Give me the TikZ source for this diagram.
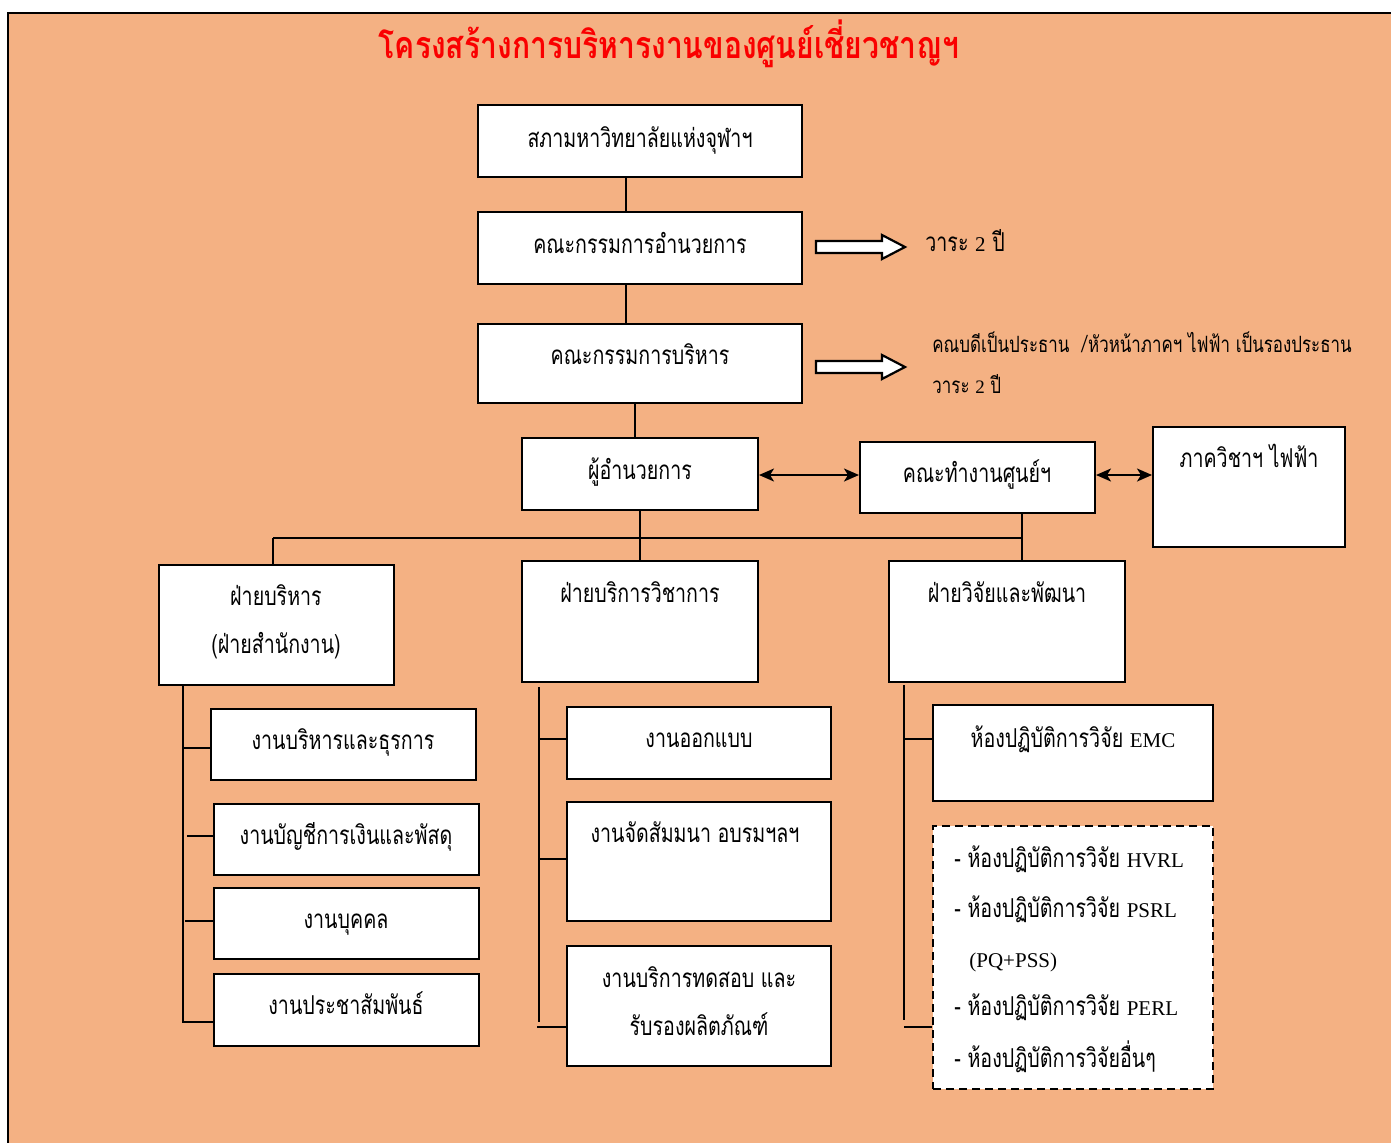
\documentclass[tikz,border=0pt]{standalone}
\usepackage{fontspec}
\setmainfont{Liberation Serif}
\newfontfamily\thfont[Script=Thai,FakeStretch=0.755]{Loma}
\newfontfamily\thtitlefont[Script=Thai,FakeStretch=0.8]{Loma}
\newfontfamily\enfont{Liberation Serif}
\newcommand{\enfnt}[1]{{\enfont\fontsize{10.5}{12}\selectfont #1}}
\usetikzlibrary{fit,arrows.meta,calc}
\definecolor{bgorange}{RGB}{244,177,131}
\definecolor{titlered}{RGB}{250,0,0}
\begin{document}
\begin{tikzpicture}[x=0.5pt,y=-0.5pt,
  box/.style={draw=black,line width=1pt,fill=white,inner sep=0pt},
  dbox/.style={box,dash pattern=on 4pt off 2.5pt},
  txt/.style={inner sep=0pt,anchor=base,font=\thfont\fontsize{13}{15}\selectfont},
  ltxt/.style={txt,anchor=base west},
  stxt/.style={ltxt,font=\thfont\fontsize{11.2}{13}\selectfont},
  conn/.style={draw=black,line width=1pt},
  biarrow/.style={conn,{Stealth[length=7.5pt,width=6.5pt,inset=2pt]}-{Stealth[length=7.5pt,width=6.5pt,inset=2pt]}},
  hollow/.style={draw=black,line width=1.1pt,fill=white,line join=miter}]
\useasboundingbox (0,0) rectangle (1391,1142);
\clip (0,0) rectangle (1391,1142);
\fill[white] (0,0) rectangle (1391,1142);
\draw[fill=bgorange,line width=1.2pt] (8,13) rectangle (1400,1150);

% title
\node[inner sep=0pt,anchor=base,text=titlered,font=\thtitlefont\bfseries\fontsize{18.8}{20}\selectfont] (title) at (669,58) {โครงสร้างการบริหารงานของศูนย์เชี่ยวชาญฯ};

% boxes
\node[box,fit={(478,105) (802,177)}] (sapha) {};
\node[box,fit={(478,212) (802,284)}] (amnuay) {};
\node[box,fit={(478,324) (802,403)}] (borihan) {};
\node[box,fit={(522,438) (758,510)}] (director) {};
\node[box,fit={(860,442) (1095,513)}] (working) {};
\node[box,fit={(1153,427) (1345,547)}] (dept) {};
\node[box,fit={(159,565) (394,685)}] (admin) {};
\node[box,fit={(522,561) (758,682)}] (acad) {};
\node[box,fit={(889,561) (1125,682)}] (research) {};
\node[box,fit={(211,709) (476,780)}] (L1) {};
\node[box,fit={(214,804) (479,875)}] (L2) {};
\node[box,fit={(214,888) (479,959)}] (L3) {};
\node[box,fit={(214,974) (479,1046)}] (L4) {};
\node[box,fit={(567,707) (831,779)}] (M1) {};
\node[box,fit={(567,802) (831,921)}] (M2) {};
\node[box,fit={(567,946) (831,1066)}] (M3) {};
\node[box,fit={(933,705) (1213,801)}] (R1) {};
\node[dbox,fit={(933,826) (1213,1089)}] (R2) {};

% texts
\node[txt] (t-sapha) at (640,147) {สภามหาวิทยาลัยแห่งจุฬาฯ};
\node[txt] (t-amnuay) at (640,253) {คณะกรรมการอำนวยการ};
\node[txt] (t-borihan) at (640,364) {คณะกรรมการบริหาร};
\node[txt] (t-director) at (640,479) {ผู้อำนวยการ};
\node[txt] (t-working) at (977,482) {คณะทำงานศูนย์ฯ};
\node[txt] (t-dept) at (1249,467) {ภาควิชาฯ ไฟฟ้า};
\node[txt] (t-admin1) at (276,605) {ฝ่ายบริหาร};
\node[txt] (t-admin2) at (276,653) {(ฝ่ายสำนักงาน)};
\node[txt] (t-acad) at (640,602) {ฝ่ายบริการวิชาการ};
\node[txt] (t-research) at (1007,602) {ฝ่ายวิจัยและพัฒนา};
\node[txt] (t-L1) at (343,749) {งานบริหารและธุรการ};
\node[txt] (t-L2) at (346,844) {งานบัญชีการเงินและพัสดุ};
\node[txt] (t-L3) at (346,928) {งานบุคคล};
\node[txt] (t-L4) at (346,1014) {งานประชาสัมพันธ์};
\node[txt] (t-M1) at (699,747) {งานออกแบบ};
\node[txt] (t-M2) at (695,842) {งานจัดสัมมนา อบรมฯลฯ};
\node[txt] (t-M3a) at (699,987) {งานบริการทดสอบ และ};
\node[txt] (t-M3b) at (699,1035) {รับรองผลิตภัณฑ์};
\node[txt] (t-R1) at (1073,747) {ห้องปฏิบัติการวิจัย \enfnt{EMC}};
\node[ltxt] (t-R2a) at (954,867) {- ห้องปฏิบัติการวิจัย \enfnt{HVRL}};
\node[ltxt] (t-R2b) at (954,917) {- ห้องปฏิบัติการวิจัย \enfnt{PSRL}};
\node[ltxt] (t-R2c) at (969,967) {\enfnt{(PQ+PSS)}};
\node[ltxt] (t-R2d) at (954,1015) {- ห้องปฏิบัติการวิจัย \enfnt{PERL}};
\node[ltxt] (t-R2e) at (954,1067) {- ห้องปฏิบัติการวิจัยอื่นๆ};

% hollow arrows and their notes
\draw[hollow] (816,241) -- (882,241) -- (882,235) -- (905,247) -- (882,259) -- (882,253) -- (816,253) -- cycle;
\draw[hollow] (816,361) -- (882,361) -- (882,355) -- (905,367) -- (882,379) -- (882,373) -- (816,373) -- cycle;
\node[ltxt] (n-term1) at (925,251) {วาระ \enfnt{2} ปี};
\node[stxt] (n-chair) at (932,352) {คณบดีเป็นประธาน\ \ {\enfont\fontsize{13}{15}\selectfont/}หัวหน้าภาคฯ ไฟฟ้า เป็นรองประธาน};
\node[stxt] (n-term2) at (932,393) {วาระ {\enfont\fontsize{9.5}{11}\selectfont 2} ปี};

% connectors
\draw[conn] (626,0 |- sapha.south) -- (626,0 |- amnuay.north);
\draw[conn] (626,0 |- amnuay.south) -- (626,0 |- borihan.north);
\draw[conn] (635,0 |- borihan.south) -- (635,0 |- director.north);
\draw[biarrow] (director.east |- 0,475) -- (working.west |- 0,475);
\draw[biarrow] (working.east |- 0,475) -- (dept.west |- 0,475);
\coordinate (busL) at (273,538);
\coordinate (busR) at (1022,538);
\draw[conn] (busL) -- (busR);
\draw[conn] (busL) -- (273,0 |- admin.north);
\draw[conn] (640,0 |- director.south) -- (640,0 |- acad.north);
\draw[conn] (1022,0 |- working.south) -- (1022,0 |- research.north);

% left column
\coordinate (lspT) at (183,0 |- admin.south);
\coordinate (lspB) at (183,1023);
\draw[conn] (lspT) -- (lspB);
\draw[conn] (183,748) -- (L1.west |- 0,748);
\draw[conn] (187,836) -- (L2.west |- 0,836);
\draw[conn] (185,921) -- (L3.west |- 0,921);
\draw[conn] (183,1022) -- (L4.west |- 0,1022);

% middle column
\coordinate (mspT) at (539,687);
\coordinate (mspB) at (539,1022);
\draw[conn] (mspT) -- (mspB);
\draw[conn] (539,739) -- (M1.west |- 0,739);
\draw[conn] (539,859) -- (M2.west |- 0,859);
\draw[conn] (537,1027) -- (M3.west |- 0,1027);

% right column
\coordinate (rspT) at (904,685);
\coordinate (rspB) at (904,1020);
\draw[conn] (rspT) -- (rspB);
\draw[conn] (904,739) -- (R1.west |- 0,739);
\draw[conn] (904,1027) -- (R2.west |- 0,1027);
\end{tikzpicture}
\end{document}
